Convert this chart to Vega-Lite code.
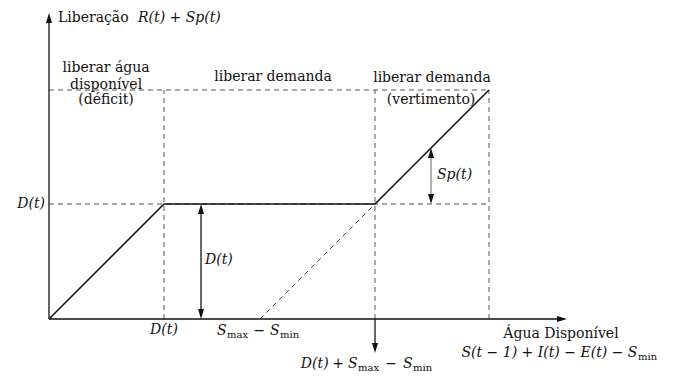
{
  "$schema": "https://vega.github.io/schema/vega-lite/v6.json",
  "width": 681,
  "height": 376,
  "autosize": {"type": "fit", "contains": "padding"},
  "padding": 0,
  "background": "white",
  "view": {"stroke": null},
  "config": {"text": {"font": "DejaVu Serif", "fontSize": 14, "color": "#111"}},
  "datasets": {
    "dashed": [
      {"x": 0, "y": 1, "x2": 3.826, "y2": 1},
      {"x": 0, "y": 1.991, "x2": 3.826, "y2": 1.991},
      {"x": 1, "y": 0, "x2": 1, "y2": 1.991},
      {"x": 2.835, "y": 0, "x2": 2.835, "y2": 1.991},
      {"x": 3.826, "y": 0, "x2": 3.826, "y2": 1.991},
      {"x": 1.835, "y": 0, "x2": 2.835, "y2": 1}
    ],
    "solid": [
      {"x": 0, "y": 0, "x2": 0, "y2": 2.63},
      {"x": 0, "y": 0, "x2": 4.48, "y2": 0},
      {"x": 1.322, "y": 0.03, "x2": 1.322, "y2": 0.97},
      {"x": 2.835, "y": 0, "x2": 2.835, "y2": -0.27}
    ],
    "grayshaft": [
      {"x": 3.322, "y": 1.03, "x2": 3.322, "y2": 1.46}
    ],
    "curve": [
      {"i": 0, "x": 0, "y": 0},
      {"i": 1, "x": 1, "y": 1},
      {"i": 2, "x": 2.835, "y": 1},
      {"i": 3, "x": 3.826, "y": 1.991}
    ],
    "headsUp": [
      {"x": 0, "y": 2.661},
      {"x": 1.322, "y": 1},
      {"x": 3.322, "y": 1.487}
    ],
    "headsDown": [
      {"x": 1.322, "y": 0},
      {"x": 3.322, "y": 1},
      {"x": 2.835, "y": -0.296}
    ],
    "headsRight": [
      {"x": 4.504, "y": 0}
    ],
    "romanCenter": [
      {"x": 0.496, "y": 2.183, "t": "liberar água"},
      {"x": 0.496, "y": 2.035, "t": "disponível"},
      {"x": 0.496, "y": 1.904, "t": "(déficit)"},
      {"x": 1.948, "y": 2.104, "t": "liberar demanda"},
      {"x": 3.33, "y": 2.096, "t": "liberar demanda"},
      {"x": 3.322, "y": 1.904, "t": "(vertimento)"},
      {"x": 4.452, "y": -0.13, "t": "Água Disponível"},
      {"x": 1.83, "y": -0.104, "t": "−"},
      {"x": 2.513, "y": -0.391, "t": "+"},
      {"x": 2.974, "y": -0.391, "t": "−"}
    ],
    "romanLeft": [
      {"x": 0.078, "y": 2.617, "t": "Liberação"}
    ],
    "italicLeft": [
      {"x": 0.774, "y": 2.617, "t": "R(t) + Sp(t)"},
      {"x": 1.357, "y": 0.513, "t": "D(t)"},
      {"x": 3.374, "y": 1.252, "t": "Sp(t)"},
      {"x": 1.461, "y": -0.104, "t": "S"},
      {"x": 1.922, "y": -0.104, "t": "S"},
      {"x": 2.19, "y": -0.391, "t": "D(t)"},
      {"x": 2.6, "y": -0.391, "t": "S"},
      {"x": 3.078, "y": -0.391, "t": "S"}
    ],
    "sub": [
      {"x": 1.548, "y": -0.139, "t": "max"},
      {"x": 2.009, "y": -0.139, "t": "min"},
      {"x": 2.687, "y": -0.426, "t": "max"},
      {"x": 3.165, "y": -0.426, "t": "min"},
      {"x": 5.122, "y": -0.33, "t": "min"}
    ],
    "italicCenter": [
      {"x": 1.0, "y": -0.096, "t": "D(t)"}
    ],
    "italicRight": [
      {"x": -0.035, "y": 1.0, "t": "D(t)"},
      {"x": 5.117, "y": -0.296, "t": "S(t − 1) + I(t) − E(t) − S"}
    ]
  },
  "encoding": {
    "x": {"field": "x", "type": "quantitative", "scale": {"domain": [-0.4261, 5.4957], "nice": false, "zero": false}, "axis": null},
    "y": {"field": "y", "type": "quantitative", "scale": {"domain": [-0.4957, 2.7739], "nice": false, "zero": false}, "axis": null}
  },
  "layer": [
    {
      "data": {"name": "dashed"},
      "mark": {"type": "rule", "color": "#555", "strokeWidth": 1, "strokeDash": [5, 4]},
      "encoding": {"x2": {"field": "x2"}, "y2": {"field": "y2"}}
    },
    {
      "data": {"name": "solid"},
      "mark": {"type": "rule", "color": "#111", "strokeWidth": 1.3},
      "encoding": {"x2": {"field": "x2"}, "y2": {"field": "y2"}}
    },
    {
      "data": {"name": "grayshaft"},
      "mark": {"type": "rule", "color": "#888", "strokeWidth": 1.3},
      "encoding": {"x2": {"field": "x2"}, "y2": {"field": "y2"}}
    },
    {
      "data": {"name": "curve"},
      "mark": {"type": "line", "color": "#111", "strokeWidth": 1.5},
      "encoding": {"order": {"field": "i", "type": "quantitative"}}
    },
    {
      "data": {"name": "headsUp"},
      "mark": {"type": "point", "shape": "M0,0L-0.6,2L0.6,2Z", "filled": true, "size": 100, "color": "#111", "opacity": 1}
    },
    {
      "data": {"name": "headsDown"},
      "mark": {"type": "point", "shape": "M0,0L-0.6,-2L0.6,-2Z", "filled": true, "size": 100, "color": "#111", "opacity": 1}
    },
    {
      "data": {"name": "headsRight"},
      "mark": {"type": "point", "shape": "M0,0L-2,-0.6L-2,0.6Z", "filled": true, "size": 100, "color": "#111", "opacity": 1}
    },
    {
      "data": {"name": "romanCenter"},
      "mark": {"type": "text", "align": "center", "baseline": "middle", "font": "DejaVu Serif"},
      "encoding": {"text": {"field": "t"}}
    },
    {
      "data": {"name": "romanLeft"},
      "mark": {"type": "text", "align": "left", "baseline": "middle", "font": "DejaVu Serif"},
      "encoding": {"text": {"field": "t"}}
    },
    {
      "data": {"name": "sub"},
      "mark": {"type": "text", "align": "left", "baseline": "middle", "font": "DejaVu Serif", "fontSize": 10},
      "encoding": {"text": {"field": "t"}}
    },
    {
      "data": {"name": "italicLeft"},
      "mark": {"type": "text", "align": "left", "baseline": "middle", "fontStyle": "italic", "font": "DejaVu Serif"},
      "encoding": {"text": {"field": "t"}}
    },
    {
      "data": {"name": "italicCenter"},
      "mark": {"type": "text", "align": "center", "baseline": "middle", "fontStyle": "italic", "font": "DejaVu Serif"},
      "encoding": {"text": {"field": "t"}}
    },
    {
      "data": {"name": "italicRight"},
      "mark": {"type": "text", "align": "right", "baseline": "middle", "fontStyle": "italic", "font": "DejaVu Serif"},
      "encoding": {"text": {"field": "t"}}
    }
  ]
}
